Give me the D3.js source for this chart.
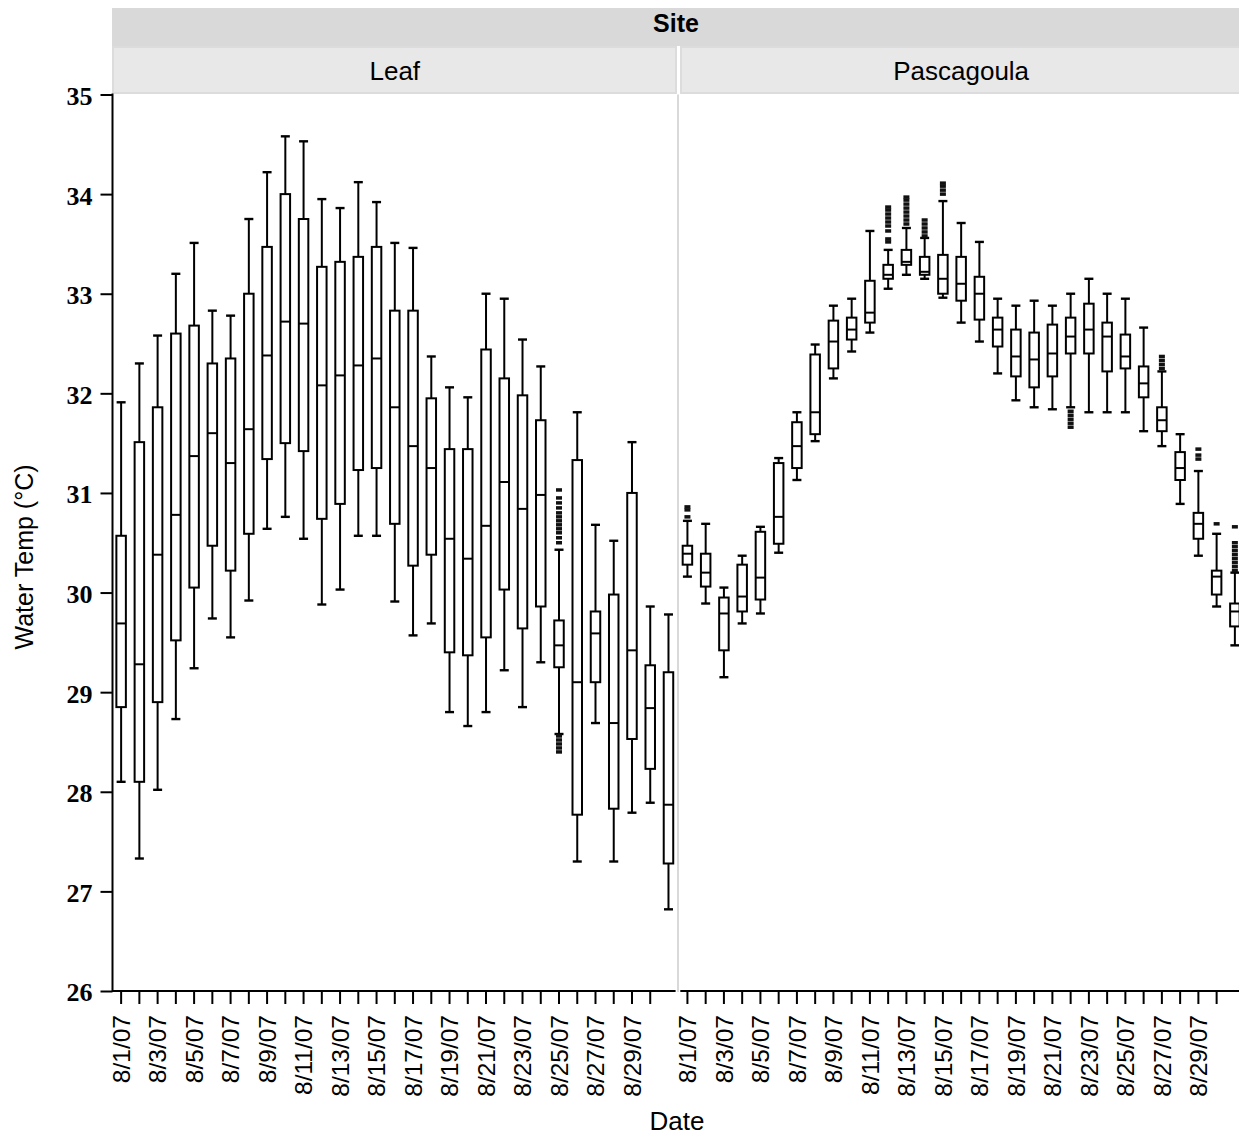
<!DOCTYPE html>
<html>
<head>
<meta charset="utf-8">
<script src="https://cdn.jsdelivr.net/npm/d3@7"></script>
<style>
  body { margin: 0; background: #fff; }
  text { font-family: "Liberation Sans", Arial, sans-serif; fill: #000; }
</style>
</head>
<body>
<div id="chart"></div>
<script>
// days of August 2007, one box per day and site
var days = d3.range(1, 32);
var tickDays = d3.range(1, 31);
var dateLabels = tickDays.map(function(d) { return "8/" + d + "/07"; });
var yTicks = [26, 27, 28, 29, 30, 31, 32, 33, 34, 35];

// Leaf site
var leafLow = [28.1, 27.33, 28.02, 28.73, 29.24, 29.74, 29.55, 29.92, 30.64, 30.76, 30.54, 29.88, 30.03, 30.57, 30.57, 29.91, 29.57, 29.69, 28.8, 28.66, 28.8, 29.22, 28.85, 29.30, 28.58, 27.30, 28.69, 27.30, 27.79, 27.89, 26.82];
var leafQ1 = [28.85, 28.1, 28.9, 29.52, 30.05, 30.47, 30.22, 30.59, 31.34, 31.5, 31.42, 30.74, 30.89, 31.23, 31.25, 30.69, 30.27, 30.38, 29.40, 29.37, 29.55, 30.03, 29.64, 29.86, 29.25, 27.77, 29.1, 27.83, 28.53, 28.23, 27.28];
var leafMed = [29.69, 29.28, 30.38, 30.78, 31.37, 31.6, 31.30, 31.64, 32.38, 32.72, 32.7, 32.08, 32.18, 32.28, 32.35, 31.86, 31.47, 31.25, 30.54, 30.34, 30.67, 31.11, 30.84, 30.98, 29.47, 29.1, 29.59, 28.69, 29.42, 28.84, 27.87];
var leafQ3 = [30.57, 31.51, 31.86, 32.6, 32.68, 32.3, 32.35, 33.0, 33.47, 34.0, 33.75, 33.27, 33.32, 33.37, 33.47, 32.83, 32.83, 31.95, 31.44, 31.44, 32.44, 32.15, 31.98, 31.73, 29.72, 31.33, 29.81, 29.98, 31.0, 29.27, 29.2];
var leafHigh = [31.91, 32.3, 32.58, 33.2, 33.51, 32.83, 32.78, 33.75, 34.22, 34.58, 34.53, 33.95, 33.86, 34.12, 33.92, 33.51, 33.46, 32.37, 32.06, 31.96, 33.0, 32.95, 32.54, 32.27, 30.43, 31.81, 30.68, 30.52, 31.51, 29.86, 29.78];
var leafOutliers = [
  [25, 30.5], [25, 30.55], [25, 30.6], [25, 30.64], [25, 30.68], [25, 30.72], [25, 30.76], [25, 30.8], [25, 30.85], [25, 30.9], [25, 30.95], [25, 31.03],
  [25, 28.4], [25, 28.44], [25, 28.48], [25, 28.52], [25, 28.56]
];

// Pascagoula site
var pascLow = [30.16, 29.89, 29.15, 29.69, 29.79, 30.40, 31.13, 31.52, 32.15, 32.42, 32.61, 33.05, 33.19, 33.15, 32.96, 32.71, 32.52, 32.20, 31.93, 31.86, 31.84, 31.86, 31.81, 31.81, 31.81, 31.62, 31.47, 30.89, 30.37, 29.86, 29.47];
var pascQ1 = [30.28, 30.06, 29.42, 29.81, 29.93, 30.49, 31.25, 31.59, 32.25, 32.54, 32.71, 33.15, 33.29, 33.19, 33.0, 32.93, 32.74, 32.47, 32.17, 32.06, 32.17, 32.40, 32.40, 32.22, 32.25, 31.96, 31.62, 31.13, 30.54, 29.98, 29.66];
var pascMed = [30.39, 30.20, 29.79, 29.96, 30.15, 30.76, 31.47, 31.81, 32.52, 32.64, 32.81, 33.19, 33.32, 33.22, 33.15, 33.10, 33.0, 32.64, 32.37, 32.34, 32.40, 32.57, 32.64, 32.57, 32.37, 32.10, 31.73, 31.25, 30.69, 30.16, 29.81];
var pascQ3 = [30.47, 30.39, 29.95, 30.28, 30.61, 31.30, 31.71, 32.39, 32.73, 32.76, 33.13, 33.29, 33.44, 33.37, 33.39, 33.37, 33.17, 32.76, 32.64, 32.61, 32.69, 32.76, 32.90, 32.71, 32.59, 32.27, 31.86, 31.41, 30.80, 30.22, 29.89];
var pascHigh = [30.72, 30.69, 30.05, 30.37, 30.66, 31.35, 31.81, 32.49, 32.88, 32.95, 33.63, 33.44, 33.66, 33.56, 33.93, 33.71, 33.52, 32.95, 32.88, 32.93, 32.88, 33.0, 33.15, 33.0, 32.95, 32.66, 32.22, 31.59, 31.22, 30.59, 30.20];
var pascOutliers = [
  [1, 30.76], [1, 30.83], [1, 30.86],
  [12, 33.52], [12, 33.55], [12, 33.63], [12, 33.68], [12, 33.72], [12, 33.76], [12, 33.8], [12, 33.84], [12, 33.87],
  [13, 33.7], [13, 33.74], [13, 33.78], [13, 33.82], [13, 33.86], [13, 33.9], [13, 33.94], [13, 33.97],
  [14, 33.58], [14, 33.62], [14, 33.66], [14, 33.7], [14, 33.74],
  [15, 34.0], [15, 34.04], [15, 34.08], [15, 34.11],
  [22, 31.66], [22, 31.7], [22, 31.74], [22, 31.78], [22, 31.82],
  [27, 32.25], [27, 32.29], [27, 32.33], [27, 32.37],
  [29, 31.34], [29, 31.38], [29, 31.44],
  [30, 30.69],
  [31, 30.22], [31, 30.26], [31, 30.3], [31, 30.34], [31, 30.38], [31, 30.42], [31, 30.46], [31, 30.5], [31, 30.66]
];

var width = 1239, height = 1135;
var plotTop = 94.5, plotBottom = 991;

function buildBoxes(lo, q1, med, q3, hi) {
  return days.map(function(d, i) {
    return { day: d, lo: lo[i], q1: q1[i], med: med[i], q3: q3[i], hi: hi[i] };
  });
}

var panels = [
  { name: "Leaf", x0: 112, x1: 677.6, boxes: buildBoxes(leafLow, leafQ1, leafMed, leafQ3, leafHigh), outliers: leafOutliers },
  { name: "Pascagoula", x0: 678.3, x1: 1244, boxes: buildBoxes(pascLow, pascQ1, pascMed, pascQ3, pascHigh), outliers: pascOutliers }
];

var svg = d3.select("#chart").append("svg")
  .attr("width", width)
  .attr("height", height);

svg.append("rect").attr("width", width).attr("height", height).attr("fill", "#fff");

var y = d3.scaleLinear().domain([26, 35]).range([plotBottom, plotTop]);

// top "Site" strip
svg.append("rect")
  .attr("x", 112).attr("y", 8)
  .attr("width", width - 112).attr("height", 38)
  .attr("fill", "#d9d9d9");
svg.append("text")
  .attr("x", 676).attr("y", 31.5)
  .attr("text-anchor", "middle")
  .style("font-size", "25px")
  .style("font-weight", "bold")
  .text("Site");

panels.forEach(function(p, pi) {
  var x = d3.scaleBand().domain(days).range([p.x0, p.x1]);
  var bw = x.bandwidth();
  var boxW = 9.5, capW = 9;
  function cx(d) { return x(d) + bw / 2; }

  // panel strip
  var sx0 = pi === 0 ? 113 : 681;
  var sx1 = pi === 0 ? 676 : 1250;
  svg.append("rect")
    .attr("x", sx0).attr("y", 47)
    .attr("width", sx1 - sx0).attr("height", 46)
    .attr("fill", "#e8e8e8")
    .attr("stroke", "#dcdcdc")
    .attr("stroke-width", 2);
  svg.append("text")
    .attr("x", (p.x0 + p.x1) / 2).attr("y", 80)
    .attr("text-anchor", "middle")
    .style("font-size", "26px")
    .text(p.name);

  // x axis
  var xAxis = d3.axisBottom(x)
    .tickValues(tickDays)
    .tickSize(13)
    .tickSizeOuter(0)
    .tickFormat(function(d) { return d % 2 === 1 ? dateLabels[d - 1] : ""; });

  var gx = svg.append("g")
    .attr("transform", "translate(0," + plotBottom + ")")
    .call(xAxis);
  gx.select(".domain")
    .attr("stroke", "#000")
    .attr("stroke-width", 2)
    .attr("d", "M" + (pi === 0 ? p.x0 : p.x0 + 2) + ",0H" + (pi === 0 ? p.x1 - 2 : p.x1));
  gx.selectAll(".tick line").attr("stroke", "#000").attr("stroke-width", 2);
  gx.selectAll(".tick text")
    .attr("transform", "rotate(-90)")
    .attr("text-anchor", "end")
    .attr("x", -24)
    .attr("y", 0)
    .attr("dy", "0.36em")
    .style("font-family", "'Liberation Sans', Arial, sans-serif")
    .style("font-size", "24.5px")
    .attr("fill", "#000");

  var g = svg.append("g");

  // whiskers
  var boxes = g.selectAll(".box").data(p.boxes).enter().append("g").attr("class", "box");
  boxes.append("line")
    .attr("x1", function(d) { return cx(d.day); })
    .attr("x2", function(d) { return cx(d.day); })
    .attr("y1", function(d) { return y(d.hi); })
    .attr("y2", function(d) { return y(d.lo); })
    .attr("stroke", "#000").attr("stroke-width", 2);
  boxes.append("line")
    .attr("x1", function(d) { return cx(d.day) - capW / 2; })
    .attr("x2", function(d) { return cx(d.day) + capW / 2; })
    .attr("y1", function(d) { return y(d.hi); })
    .attr("y2", function(d) { return y(d.hi); })
    .attr("stroke", "#000").attr("stroke-width", 2.4);
  boxes.append("line")
    .attr("x1", function(d) { return cx(d.day) - capW / 2; })
    .attr("x2", function(d) { return cx(d.day) + capW / 2; })
    .attr("y1", function(d) { return y(d.lo); })
    .attr("y2", function(d) { return y(d.lo); })
    .attr("stroke", "#000").attr("stroke-width", 2.4);

  // boxes + median
  boxes.append("rect")
    .attr("x", function(d) { return cx(d.day) - boxW / 2; })
    .attr("y", function(d) { return y(d.q3); })
    .attr("width", boxW)
    .attr("height", function(d) { return y(d.q1) - y(d.q3); })
    .attr("fill", "#fff")
    .attr("stroke", "#000").attr("stroke-width", 2);
  boxes.append("line")
    .attr("x1", function(d) { return cx(d.day) - boxW / 2; })
    .attr("x2", function(d) { return cx(d.day) + boxW / 2; })
    .attr("y1", function(d) { return y(d.med); })
    .attr("y2", function(d) { return y(d.med); })
    .attr("stroke", "#000").attr("stroke-width", 2);

  // outliers
  g.selectAll(".outlier").data(p.outliers).enter().append("rect")
    .attr("class", "outlier")
    .attr("x", function(d) { return cx(d[0]) - 3; })
    .attr("y", function(d) { return y(d[1]) - 1.75; })
    .attr("width", 6).attr("height", 3.5)
    .attr("fill", "#111");
});

// divider between panels
svg.append("line")
  .attr("x1", 678).attr("x2", 678)
  .attr("y1", plotTop).attr("y2", plotBottom + 1)
  .attr("stroke", "#d9d9d9").attr("stroke-width", 2);

// y axis
var gy = svg.append("g")
  .attr("transform", "translate(112.5,0)")
  .call(d3.axisLeft(y).tickValues(yTicks).tickSize(12).tickSizeOuter(0));
gy.select(".domain").attr("stroke", "#000").attr("stroke-width", 2)
  .attr("d", "M0," + (plotTop - 1) + "V" + (plotBottom + 1));
gy.selectAll(".tick line").attr("stroke", "#000").attr("stroke-width", 2);
gy.selectAll(".tick text")
  .attr("x", -20)
  .attr("dy", "0.38em")
  .style("font-family", "'Liberation Serif', 'Times New Roman', serif")
  .style("font-weight", "bold")
  .style("font-size", "26px")
  .attr("fill", "#000");

// axis titles
svg.append("text")
  .attr("transform", "translate(33,557) rotate(-90)")
  .attr("text-anchor", "middle")
  .style("font-size", "25px")
  .text("Water Temp (\u00B0C)");

svg.append("text")
  .attr("x", 677).attr("y", 1130)
  .attr("text-anchor", "middle")
  .style("font-size", "26px")
  .text("Date");
</script>
</body>
</html>
